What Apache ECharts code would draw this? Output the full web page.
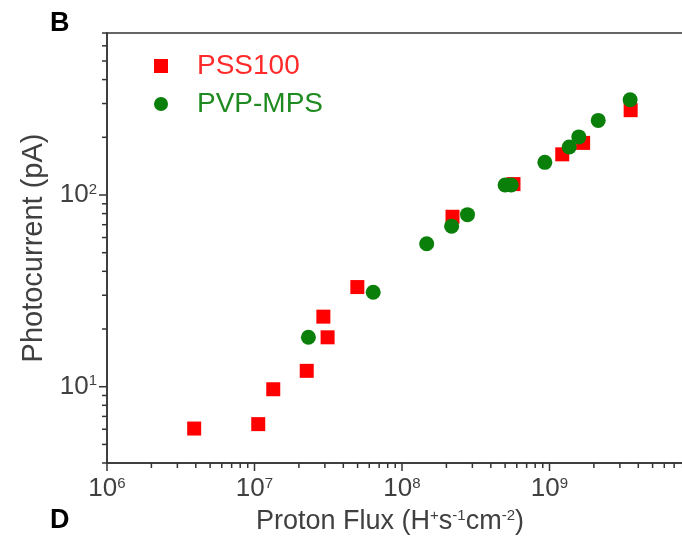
<!DOCTYPE html>
<html>
<head>
<meta charset="utf-8">
<script src="https://cdn.jsdelivr.net/npm/echarts@6/dist/echarts.min.js"></script>
<style>
  html, body { margin: 0; padding: 0; background: #fff; }
  #chart { width: 682px; height: 542px; }
</style>
</head>
<body>
<div id="chart"></div>
<script>
// Photocurrent vs. proton flux for the two membranes
const pss100Flux = [3.9e6, 1.06e7, 1.34e7, 2.26e7, 2.93e7, 3.13e7, 4.98e7, 2.2e8, 5.7e8, 1.22e9, 1.69e9, 3.55e9];
const pss100Current = [6.05, 6.38, 9.7, 12.1, 23.2, 18.1, 33.1, 77, 114, 163, 187, 277];
const pvpFlux = [2.32e7, 6.38e7, 1.47e8, 2.17e8, 2.78e8, 5.0e8, 5.5e8, 9.3e8, 1.36e9, 1.58e9, 2.14e9, 3.52e9];
const pvpCurrent = [18.1, 31.1, 55.7, 68.8, 79, 112.8, 112.8, 148, 178, 201, 245, 314];

// Axis ranges and tick values
const xMin = 1e6, xMax = 1e10;
const yMin = 4, yMax = 700;
const xMajorTicks = [1e6, 1e7, 1e8, 1e9, 1e10];
const xMinorTicks = [2e6, 3e6, 4e6, 5e6, 6e6, 7e6, 8e6, 9e6,
                     2e7, 3e7, 4e7, 5e7, 6e7, 7e7, 8e7, 9e7,
                     2e8, 3e8, 4e8, 5e8, 6e8, 7e8, 8e8, 9e8,
                     2e9, 3e9, 4e9, 5e9, 6e9, 7e9, 8e9, 9e9];
const yMajorTicks = [10, 100];
const yMinorTicks = [4, 5, 6, 7, 8, 9, 20, 30, 40, 50, 60, 70, 80, 90, 200, 300, 400, 500, 600, 700];

const FONT = 'Liberation Sans';
const AXIS_COLOR = '#333333';
const TEXT_COLOR = '#404040';

function powerLabel(v) {
  const e = Math.round(Math.log10(v));
  if (Math.abs(Math.log10(v) - e) > 1e-6) return '';
  return '10{sup|' + e + '}';
}

const labelRich = {
  sup: { fontSize: 15, fontFamily: FONT, color: TEXT_COLOR, verticalAlign: 'top', lineHeight: 16 }
};

// tick marks drawn outward from the axes
function tickSeries(values, isX, len) {
  return {
    type: 'custom',
    silent: true,
    clip: false,
    z: 5,
    data: values.map(v => isX ? [v, 10] : [1e7, v]),
    renderItem: function (params, api) {
      const cs = params.coordSys;
      if (isX) {
        const x = api.coord([api.value(0), 10])[0];
        const y = cs.y + cs.height;
        return { type: 'line', shape: { x1: x, y1: y, x2: x, y2: y + len },
                 style: { stroke: AXIS_COLOR, lineWidth: 1.5 } };
      } else {
        const y = api.coord([1e7, api.value(1)])[1];
        const x = cs.x;
        return { type: 'line', shape: { x1: x, y1: y, x2: x - len, y2: y },
                 style: { stroke: AXIS_COLOR, lineWidth: 1.5 } };
      }
    }
  };
}

const chart = echarts.init(document.getElementById('chart'), null, { renderer: 'canvas' });

chart.setOption({
  animation: false,
  backgroundColor: '#fff',
  grid: {
    left: 107, top: 33, width: 590, height: 430,
    outerBoundsMode: 'none', containLabel: false,
    show: true, borderColor: AXIS_COLOR, borderWidth: 1.5, backgroundColor: 'transparent'
  },
  legend: {
    orient: 'vertical',
    left: 149, top: 47,
    itemWidth: 14, itemHeight: 14, itemGap: 10,
    selectedMode: false,
    textStyle: { fontSize: 28, fontFamily: FONT, padding: [0, 0, 0, 24] },
    data: [
      { name: 'PSS100', icon: 'rect', textStyle: { color: '#ff2b2b' } },
      { name: 'PVP-MPS', icon: 'circle', textStyle: { color: '#1f8a1f' } }
    ]
  },
  xAxis: {
    type: 'log', logBase: 10, min: xMin, max: xMax,
    name: 'Proton Flux (H{sup|+}s{sup|-1}cm{sup|-2})',
    nameLocation: 'middle', nameGap: 45,
    nameTextStyle: {
      fontSize: 27, fontFamily: FONT, color: TEXT_COLOR, padding: [0, 24, 0, 0],
      rich: { sup: { fontSize: 15, fontFamily: FONT, color: TEXT_COLOR, verticalAlign: 'top', lineHeight: 16 } }
    },
    axisLine: { show: true, lineStyle: { color: AXIS_COLOR, width: 1.5 } },
    axisTick: { show: false },
    splitLine: { show: false },
    axisLabel: {
      margin: 13, fontSize: 26, fontFamily: FONT, color: TEXT_COLOR,
      showMaxLabel: false, formatter: powerLabel, rich: labelRich
    }
  },
  yAxis: {
    type: 'log', logBase: 10, min: yMin, max: yMax,
    name: 'Photocurrent (pA)',
    nameLocation: 'middle', nameGap: 57,
    nameTextStyle: { fontSize: 29, fontFamily: FONT, color: TEXT_COLOR },
    axisLine: { show: true, lineStyle: { color: AXIS_COLOR, width: 1.5 } },
    axisTick: { show: false },
    splitLine: { show: false },
    axisLabel: {
      margin: 10, fontSize: 26, fontFamily: FONT, color: TEXT_COLOR,
      formatter: powerLabel, rich: labelRich
    }
  },
  graphic: [
    { type: 'text', left: 50, top: 10, style: { text: 'B', font: 'bold 27px "Liberation Sans"', fill: '#000' } },
    { type: 'text', left: 50, top: 507, style: { text: 'D', font: 'bold 27px "Liberation Sans"', fill: '#000' } }
  ],
  series: [
    tickSeries(xMajorTicks, true, 8),
    tickSeries(xMinorTicks, true, 5),
    tickSeries(yMajorTicks, false, 8),
    tickSeries(yMinorTicks, false, 5),
    {
      name: 'PSS100', type: 'scatter', symbol: 'rect', symbolSize: 14,
      itemStyle: { color: '#ff0000', opacity: 1 },
      emphasis: { disabled: true },
      data: pss100Flux.map((x, i) => [x, pss100Current[i]]),
      z: 10
    },
    {
      name: 'PVP-MPS', type: 'scatter', symbol: 'circle', symbolSize: 15,
      itemStyle: { color: '#0a7f0a', opacity: 1 },
      emphasis: { disabled: true },
      data: pvpFlux.map((x, i) => [x, pvpCurrent[i]]),
      z: 11
    }
  ]
});
</script>
</body>
</html>
